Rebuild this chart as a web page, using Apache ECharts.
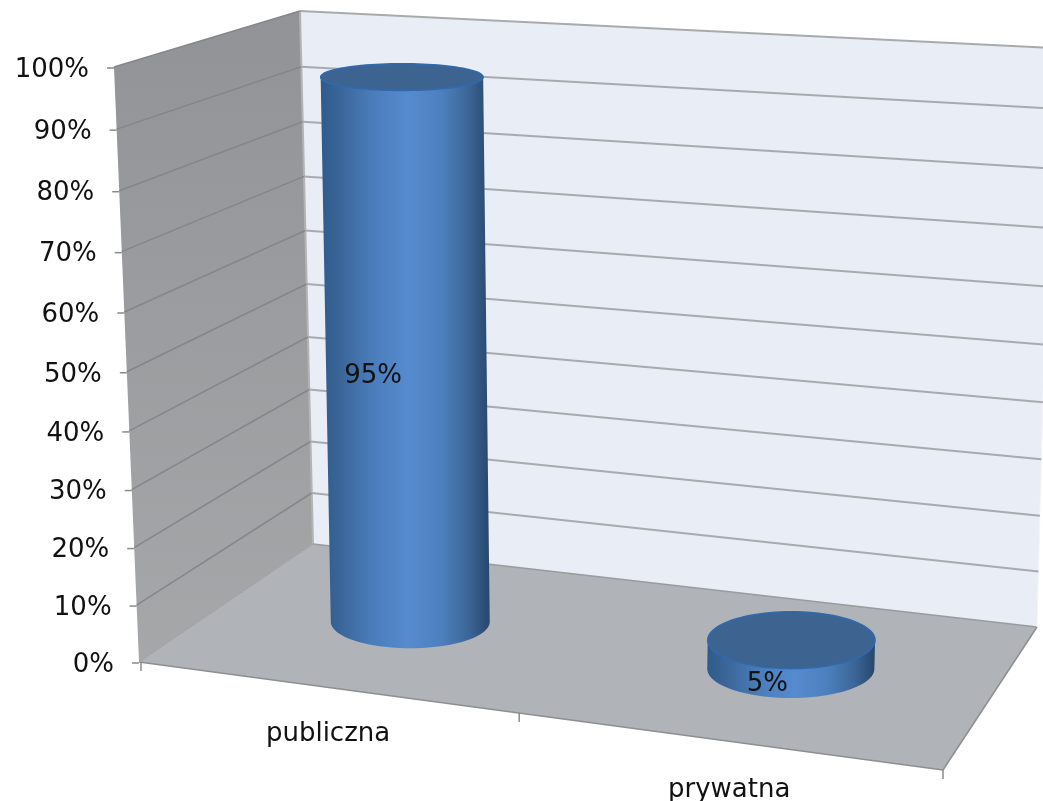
<!DOCTYPE html>
<html><head><meta charset="utf-8">
<style>html,body{margin:0;padding:0;background:#fff}#c{width:1043px;height:801px}</style>
<script src="https://cdn.jsdelivr.net/npm/echarts@6/dist/echarts.min.js"></script>
</head><body><div id="c"></div>
<script>
const categories = ['publiczna', 'prywatna'];
const shareValues = [95, 5];
const yTicks = [0, 10, 20, 30, 40, 50, 60, 70, 80, 90, 100];

// Perspective frame of the box (pixel corners of floor and ceiling): FL, FR, BR, BL
const FLOOR = [[139,662],[943,770],[1037,627],[313,544]];
const CEIL  = [[114,67],[978,118],[1052,48],[300,11]];
const PERSP = 1.05, RU = 0.21, RW = 0.215, WC = 0.5, USHIFT = 0.008, FONT = 'DejaVu Sans';

function homography(p){
  const [p0,p1,p2,p3]=p;
  const dx1=p1[0]-p2[0],dx2=p3[0]-p2[0],sx=p0[0]-p1[0]+p2[0]-p3[0];
  const dy1=p1[1]-p2[1],dy2=p3[1]-p2[1],sy=p0[1]-p1[1]+p2[1]-p3[1];
  const den=dx1*dy2-dx2*dy1;
  const g=(sx*dy2-dx2*sy)/den,h=(dx1*sy-sx*dy1)/den;
  const a=p1[0]-p0[0]+g*p1[0],b=p3[0]-p0[0]+h*p3[0],c=p0[0];
  const d=p1[1]-p0[1]+g*p1[1],e=p3[1]-p0[1]+h*p3[1],f=p0[1];
  return (s,t)=>{const q=g*s+h*t+1;return [(a*s+b*t+c)/q,(d*s+e*t+f)/q];};
}
const Hf=homography(FLOOR),Hc=homography(CEIL);
// u: band position 0..2, v: value 0..100, w: depth 0..1
function project(u,v,w){
  const t=v/100,k=t/(t+(1-t)*PERSP),A=Hf(u/2,w),B=Hc(u/2,w);
  return [A[0]+(B[0]-A[0])*k,A[1]+(B[1]-A[1])*k];
}
// library scale -> band / value coordinates
function toBox(api,cat,val){
  const p=api.coord([cat,val]),W=api.getWidth(),H=api.getHeight();
  return {u:p[0]/W*2,v:(H-p[1])/H*100};
}
function poly(points,style,z2){return {type:'polygon',shape:{points},style,z2:z2||0,silent:true};}
function line(a,b,stroke,lineWidth){return {type:'line',shape:{x1:a[0],y1:a[1],x2:b[0],y2:b[1]},style:{stroke,lineWidth},silent:true};}
function label(text,p,align){return {type:'text',x:p[0],y:p[1],style:{text,fill:'#111',font:'26px "'+FONT+'"',align:align||'center',verticalAlign:'middle'},silent:true};}

function renderWalls(){
  const c=(u,v,w)=>project(u,v,w);
  return {type:'group',children:[
    poly([c(0,0,0),c(0,0,1),c(0,100,1),c(0,100,0)],{fill:new echarts.graphic.LinearGradient(0,0,0,1,[{offset:0,color:'#929396'},{offset:1,color:'#a6a7a9'}])}),
    poly([c(0,0,1),c(2,0,1),c(2,100,1),c(0,100,1)],{fill:'#e8edf6'}),
    poly([c(0,0,0),c(2,0,0),c(2,0,1),c(0,0,1)],{fill:'#b0b3b7'}),
    line(c(0,0,1),c(0,100,1),'#b4b4b6',2),
    line(c(0,0,0),c(2,0,0),'#8e8f91',1.5),
    line(c(2,0,0),c(2,0,1),'#8e8f91',1.5),
    line(c(0,0,0),c(0,0,1),'#a0a1a3',1),
    line(c(0,0,1),c(2,0,1),'#9a9b9d',1.5),
    line(c(2,0,1),c(2,100,1),'#f2f4f9',1)
  ]};
}
function renderTick(params,api){
  const v=toBox(api,0,api.value(0)).v;
  const f=project(0,v,0),b=project(0,v,1),r=project(2,v,1);
  const ch=[];
  if(v>0){
    ch.push(line(f,b,'#85868a',1.5));
    ch.push(line(b,r,'#a9aaad',2));
  }
  ch.push(line([f[0]-7,f[1]+1],[f[0],f[1]+1],'#8a8a8a',1.5));
  ch.push(label(api.value(0)+'%',[f[0]-25,f[1]+3],'right'));
  return {type:'group',children:ch};
}
function renderCategory(params,api){
  const i=params.dataIndex,u=toBox(api,i,0).u;
  const ch=[];
  const e=project(i+1,0,0);
  ch.push(line(e,[e[0],e[1]+9],'#8a8a8a',1.5));
  if(i===0){const s=project(0,0,0);ch.push(line([s[0]+2,s[1]],[s[0]+2,s[1]+9],'#8a8a8a',1.5));}
  const p=project(u,0,0);
  ch.push(label(categories[i],[p[0]+4,p[1]+(i?50:47)]));
  return {type:'group',children:ch};
}
function ellipse(u,v,a0,a1,n){
  const c=project(u,v,WC),L=project(u-RU,v,WC),R=project(u+RU,v,WC),F=project(u,v,WC-RW),B=project(u,v,WC+RW);
  const rx=Math.abs(R[0]-L[0])/4+41.5,ry=Math.abs(F[1]-B[1])/2,out=[];
  for(let k=0;k<=n;k++){const a=a0+(a1-a0)*k/n;out.push([c[0]+rx*Math.cos(a),c[1]+ry*Math.sin(a)]);}
  return out;
}
function renderCylinder(params,api){
  const b=toBox(api,params.dataIndex,api.value(1));
  const u=b.u+USHIFT,v=b.v;
  const base=ellipse(u,0,Math.PI,0,48),topF=ellipse(u,v,0,Math.PI,48),top=ellipse(u,v,0,2*Math.PI,96);
  const side=new echarts.graphic.LinearGradient(0,0,1,0,[
    {offset:0,color:'#2f5a8c'},{offset:.12,color:'#3b6699'},{offset:.3,color:'#4a7cb9'},
    {offset:.52,color:'#568bd0'},{offset:.72,color:'#4c7fbc'},{offset:.88,color:'#3b6596'},{offset:1,color:'#28466b'}]);
  const lp=project(u,v/2,WC-RW);
  return {type:'group',children:[
    poly(base.concat(topF),{fill:side}),
    poly(top,{fill:'#3d6491',stroke:'#2f69b0',lineWidth:1.5}),
    label(api.value(1)+'%',[lp[0]+2,lp[1]])
  ]};
}
const chart=echarts.init(document.getElementById('c'),null,{renderer:'canvas'});
chart.setOption({
  animation:false,backgroundColor:'#ffffff',
  grid:{left:0,right:0,top:0,bottom:0},
  xAxis:{type:'category',data:categories,show:false},
  yAxis:{type:'value',min:0,max:100,interval:10,show:false},
  series:[
    {type:'custom',name:'walls',clip:false,data:[[0]],renderItem:renderWalls,z:1,silent:true},
    {type:'custom',name:'ticks',clip:false,data:yTicks.map(t=>[t]),encode:{y:0},renderItem:renderTick,z:2,silent:true},
    {type:'custom',name:'categories',clip:false,data:categories.map((c,i)=>[i]),renderItem:renderCategory,z:3,silent:true},
    {type:'custom',name:'share',clip:false,data:shareValues.map((v,i)=>[i,v]),encode:{x:0,y:1},renderItem:renderCylinder,z:4,silent:true}
  ]
});
</script></body></html>
